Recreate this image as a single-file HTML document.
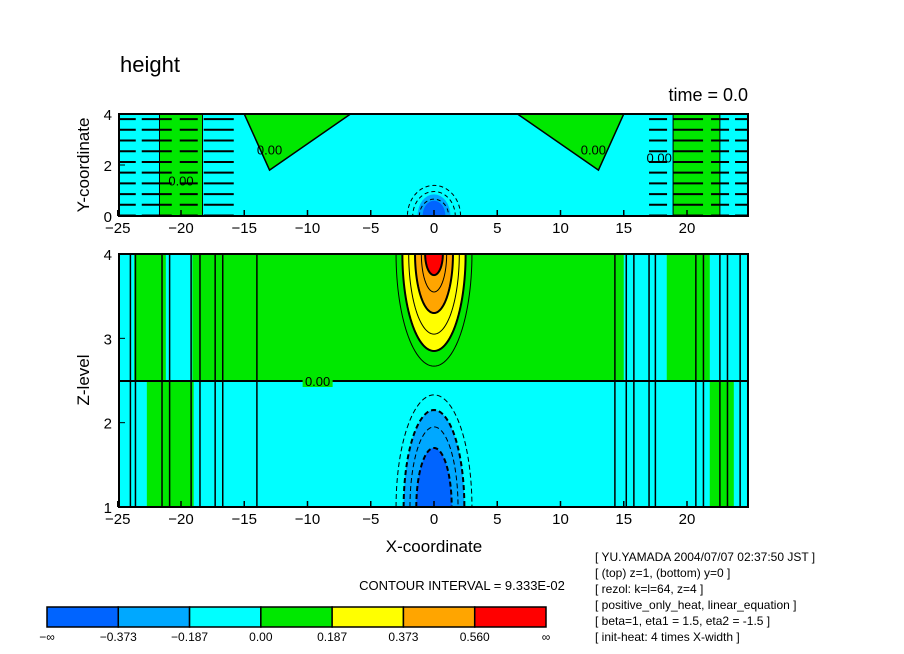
<!DOCTYPE html>
<html><head><meta charset="utf-8"><style>
html,body{margin:0;padding:0;background:#fff}
svg{display:block;font-family:"Liberation Sans",sans-serif}
</style></head><body>
<svg id="c" width="904" height="654" viewBox="0 0 904 654" xmlns="http://www.w3.org/2000/svg">
<defs>
<clipPath id="clipTop"><rect x="119" y="114" width="629" height="102"/></clipPath>
<clipPath id="clipBot"><rect x="119" y="254" width="629" height="253"/></clipPath>
</defs>
<text x="120" y="72" font-size="22">height</text>
<text x="748" y="101" font-size="18" text-anchor="end">time = 0.0</text>
<text transform="translate(89,165) rotate(-90)" font-size="17" text-anchor="middle">Y-coordinate</text>
<text transform="translate(89,380) rotate(-90)" font-size="17" text-anchor="middle">Z-level</text>
<text x="434" y="552" font-size="17" text-anchor="middle">X-coordinate</text>
<text x="462" y="590" font-size="13" text-anchor="middle">CONTOUR INTERVAL = 9.333E-02</text>
<g font-size="12">
<text x="595" y="561">[ YU.YAMADA 2004/07/07 02:37:50 JST ]</text>
<text x="595" y="577">[ (top) z=1, (bottom) y=0 ]</text>
<text x="595" y="593">[ rezol: k=l=64, z=4 ]</text>
<text x="595" y="609">[ positive_only_heat, linear_equation ]</text>
<text x="595" y="625">[ beta=1, eta1 = 1.5, eta2 = -1.5 ]</text>
<text x="595" y="641">[ init-heat: 4 times X-width ]</text>
</g>
<g id="top" clip-path="url(#clipTop)"></g>
<g id="bot" clip-path="url(#clipBot)"></g>
<g id="axes"></g>
<g id="cbar"></g>
</svg>
<script>
const colors=["#0064ff","#00a8ff","#00ffff","#00e800","#ffff00","#ffa500","#ff0000"];
const cbarLabels=["−∞","−0.373","−0.187","0.00","0.187","0.373","0.560","∞"];
const xTicks=[-25,-20,-15,-10,-5,0,5,10,15,20];
const topYTicks=[0,2,4];
const botZTicks=[1,2,3,4];
const posLevels=[0.093,0.187,0.280,0.373,0.467,0.560];
const posApex=[2.67,2.85,3.05,3.3,3.55,3.75];
const posHalf=[3.0,2.5,2.0,1.5,1.0,0.7];
const negLevels=[-0.093,-0.187,-0.280,-0.373];
const negApex=[2.33,2.15,1.95,1.7];
const negHalf=[3.0,2.4,1.9,1.4];
const botUpperCyan=[[-25,-23.7],[-21.2,-19.1],[15,18.4],[21.8,24.8]];
const botLowerGreen=[[-22.7,-19.0],[21.8,23.7]];
const topGreenBands=[[-21.7,-18.3],[18.9,22.6]];
const NS="http://www.w3.org/2000/svg";
const X0=119,X1=748,XS=12.65;
const sx=x=>434+x*XS;
const tyT=y=>216-y*25.5;
const tyB=z=>507-(z-1)*84.33;
function mk(tag,at,p){const e=document.createElementNS(NS,tag);for(const k in at)e.setAttribute(k,at[k]);p.appendChild(e);return e;}
const gTop=document.getElementById('top'),gBot=document.getElementById('bot'),gAx=document.getElementById('axes'),cb=document.getElementById('cbar');
let r=mk('rect',{x:X0,y:114,width:X1-X0,height:102,fill:colors[2]},gTop);

topGreenBands.forEach(b=>{let e=mk('rect',{x:sx(b[0]),y:114,width:(b[1]-b[0])*XS,height:102,fill:colors[3],stroke:'#000','stroke-width':1},gTop);
});
[[-15,-6.6,-13],[15,6.6,13]].forEach(t=>{let p=`${sx(t[0])},114 ${sx(t[1])},114 ${sx(t[2])},${tyT(1.8)}`;
let e=mk('polygon',{points:p,fill:colors[3],stroke:'#000','stroke-width':1.5},gTop);
});
for(let i=0;i<10;i++){let y=tyT(3.8-i*0.42);[[-25,-15.5],[17,24.8]].forEach(s=>{let e=mk('line',{x1:sx(s[0]),x2:sx(s[1]),y1:y,y2:y,stroke:'#000','stroke-width':2,'stroke-dasharray':'18 6 30 8'},gTop);
});}
[[1.3,0.85,colors[1]],[0.9,0.6,colors[0]]].forEach(b=>{let e=mk('ellipse',{cx:434,cy:216,rx:b[0]*XS,ry:b[1]*25.5,fill:b[2]},gTop);
});
[1.1,1.6,2.0].forEach(k=>{let e=mk('ellipse',{cx:434,cy:216,rx:k*XS*1.05,ry:k*25.5*0.6,fill:'none',stroke:'#000','stroke-width':1,'stroke-dasharray':'4 3'},gTop);
});
[[-13,2.6],[-20,1.4],[12.6,2.6],[17.8,2.3]].forEach(l=>{let e=mk('text',{x:sx(l[0]),y:tyT(l[1])+5,'font-size':13,'text-anchor':'middle'},gTop);e.textContent='0.00';
});
let tb=mk('rect',{x:X0,y:114,width:X1-X0,height:102,fill:'none',stroke:'#000','stroke-width':2},gAx);

r=mk('rect',{x:X0,y:254,width:X1-X0,height:127,fill:colors[3]},gBot);

r=mk('rect',{x:X0,y:381,width:X1-X0,height:126,fill:colors[2]},gBot);

botUpperCyan.forEach(b=>{let e=mk('rect',{x:sx(b[0]),y:254,width:(b[1]-b[0])*XS,height:127,fill:colors[2]},gBot);
});
botLowerGreen.forEach(b=>{let e=mk('rect',{x:sx(b[0]),y:381,width:(b[1]-b[0])*XS,height:126,fill:colors[3]},gBot);
});
[-24,-23.6,-21.5,-20.9,-19.2,-18.5,-17.3,-16.7,-14,14.3,15.2,15.8,17,17.5,20.7,21.3,22.6,23.2,24.2].forEach(x=>{let e=mk('line',{x1:sx(x),x2:sx(x),y1:254,y2:507,stroke:'#000','stroke-width':1.5},gBot);
});
let hl=mk('line',{x1:X0,x2:X1,y1:381,y2:381,stroke:'#000','stroke-width':2},gBot);

let zlb=mk('rect',{x:sx(-9.2)-15,y:375,width:30,height:12,fill:colors[3]},gBot);
let zl=mk('text',{x:sx(-9.2),y:386,'font-size':13,'text-anchor':'middle'},gBot);zl.textContent='0.00';

function blob(apex,hw,edge,n){let pts=[];for(let i=0;i<=n;i++){let th=-Math.PI/2+Math.PI*i/n;let x=hw*Math.sin(th);let z=edge+(apex-edge)*Math.cos(th);pts.push(sx(x)+','+tyB(z));}return pts.join(' ');}
posLevels.forEach((L,i)=>{
let fill=(i%2===1)?colors[Math.min(6,4+Math.floor(i/2))]:'none';
let e=mk('polygon',{points:blob(posApex[i],posHalf[i],4,60),fill:fill,stroke:'#000','stroke-width':i%2===1?2:1},gBot);
});
negLevels.forEach((L,i)=>{let fill=(i%2===1)?colors[1-Math.floor(i/2)]:'none';
let e=mk('polygon',{points:blob(negApex[i],negHalf[i],1,60),fill:fill,stroke:'#000','stroke-width':i%2===1?2:1,'stroke-dasharray':'5 3'},gBot);
});
let bb=mk('rect',{x:X0,y:254,width:X1-X0,height:253,fill:'none',stroke:'#000','stroke-width':2},gAx);

[216,507].forEach(y0=>{xTicks.forEach(v=>{let x=sx(v);
mk('line',{x1:x,x2:x,y1:y0,y2:y0-6,stroke:'#000','stroke-width':1.5},gAx);
let t=mk('text',{x:x,y:y0+17,'font-size':15,'text-anchor':'middle'},gAx);t.textContent=v<0?'−'+(-v):String(v);
});});
topYTicks.forEach(v=>{let y=tyT(v);mk('line',{x1:X0,x2:X0+6,y1:y,y2:y,stroke:'#000'},gAx);
let t=mk('text',{x:112,y:y+6,'font-size':15,'text-anchor':'end'},gAx);t.textContent=v;
});
botZTicks.forEach(v=>{let y=tyB(v);mk('line',{x1:X0,x2:X0+6,y1:y,y2:y,stroke:'#000'},gAx);
let t=mk('text',{x:112,y:y+6,'font-size':15,'text-anchor':'end'},gAx);t.textContent=v;
});
const cbx0=47,cbw=(546-47)/colors.length;
colors.forEach((c,i)=>{let e=mk('rect',{x:cbx0+i*cbw,y:607,width:cbw,height:20,fill:c,stroke:'#000','stroke-width':1.5},cb);
});
cbarLabels.forEach((l,i)=>{let t=mk('text',{x:cbx0+i*cbw,y:641,'font-size':12,'text-anchor':'middle'},cb);t.textContent=l;
});
</script>
</body></html>
